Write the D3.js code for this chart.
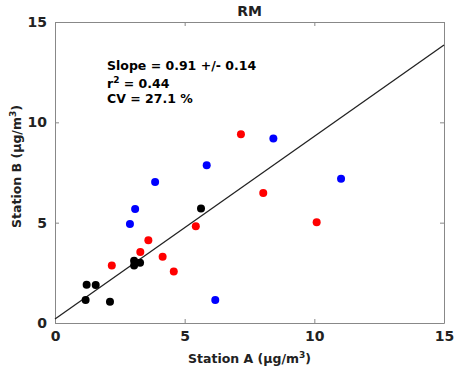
<!DOCTYPE html>
<html>
<head>
<meta charset="utf-8">
<script src="https://cdn.jsdelivr.net/npm/d3@7"></script>
<style>
  body { margin: 0; background: #fff; }
  text { font-family: "DejaVu Sans", sans-serif; font-weight: bold; }
</style>
</head>
<body>
<div id="chart-area"></div>
<script>
// Station A vs Station B, three groups of points
var blackX = [1.18, 1.22, 1.57, 2.12, 3.05, 3.05, 3.28, 5.63];
var blackY = [1.15, 1.91, 1.89, 1.06, 2.87, 3.10, 3.00, 5.71];
var redX = [2.19, 3.29, 3.60, 4.15, 4.58, 5.43, 7.17, 8.03, 10.09];
var redY = [2.87, 3.54, 4.12, 3.30, 2.57, 4.82, 9.40, 6.48, 5.02];
var blueX = [2.89, 3.09, 3.86, 5.85, 6.18, 8.42, 11.03];
var blueY = [4.93, 5.68, 7.03, 7.86, 1.15, 9.20, 7.19];

var fitSlope = 0.91, fitIntercept = 0.2;
var xTicks = [0, 5, 10, 15];
var yTicks = [0, 5, 10, 15];

var margin = { left: 55, right: 16, top: 22, bottom: 50 };
var width = 460 - margin.left - margin.right,
    height = 373 - margin.top - margin.bottom;

var svg = d3.select("#chart-area")
    .append("svg")
    .attr("width", 460)
    .attr("height", 373);
var g = svg.append("g")
    .attr("transform", "translate(" + margin.left + "," + margin.top + ")");

var x = d3.scaleLinear().domain([0, 15]).range([0, width]);
var y = d3.scaleLinear().domain([0, 15]).range([height, 0]);

// Axes (box on, ticks inward)
var axisColor = "#888";
function styleAxis(sel) {
    sel.select(".domain").attr("stroke", axisColor).attr("stroke-width", 1);
    sel.selectAll(".tick line").attr("stroke", axisColor);
    sel.selectAll(".tick text")
        .attr("fill", "#222")
        .attr("font-size", "14px")
        .attr("font-family", "DejaVu Sans")
        .attr("font-weight", "bold");
}

g.append("g")
    .attr("transform", "translate(0," + height + ")")
    .call(d3.axisBottom(x).tickValues(xTicks).tickFormat(d3.format("d"))
        .tickSizeInner(-4).tickSizeOuter(0).tickPadding(8))
    .call(styleAxis);
g.append("g")
    .call(d3.axisTop(x).tickValues(xTicks).tickFormat("")
        .tickSizeInner(-4).tickSizeOuter(0))
    .call(styleAxis);
g.append("g")
    .call(d3.axisLeft(y).tickValues(yTicks).tickFormat(d3.format("d"))
        .tickSizeInner(-4).tickSizeOuter(0).tickPadding(8))
    .call(styleAxis);
g.append("g")
    .attr("transform", "translate(" + width + ",0)")
    .call(d3.axisRight(y).tickValues(yTicks).tickFormat("")
        .tickSizeInner(-4).tickSizeOuter(0))
    .call(styleAxis);

// Fit line
g.append("line")
    .attr("x1", x(0)).attr("y1", y(fitIntercept))
    .attr("x2", x(15)).attr("y2", y(fitIntercept + fitSlope * 15))
    .attr("stroke", "#222")
    .attr("stroke-width", 1.3);

// Points
function drawPoints(xs, ys, color) {
    g.selectAll(null)
        .data(d3.zip(xs, ys))
        .enter()
        .append("circle")
        .attr("cx", function(d){ return x(d[0]); })
        .attr("cy", function(d){ return y(d[1]); })
        .attr("r", 4)
        .attr("fill", color);
}
drawPoints(blackX, blackY, "#000");
drawPoints(redX, redY, "#ff0000");
drawPoints(blueX, blueY, "#0000ff");

// Title
g.append("text")
    .attr("x", width / 2)
    .attr("y", -6)
    .attr("text-anchor", "middle")
    .attr("font-size", "14px")
    .attr("fill", "#222")
    .text("RM");

// Stats
var stats = g.append("text")
    .attr("font-size", "12.5px")
    .attr("fill", "#000");
stats.append("tspan").attr("x", 52).attr("y", 48).text("Slope = 0.91 +/- 0.14");
var r2 = stats.append("tspan").attr("x", 52).attr("y", 66);
r2.append("tspan").text("r");
r2.append("tspan").attr("dy", -5).attr("font-size", "9px").text("2");
r2.append("tspan").attr("dy", 5).text(" = 0.44");
stats.append("tspan").attr("x", 52).attr("y", 81).text("CV = 27.1 %");

// Axis labels
var xl = g.append("text")
    .attr("x", width / 2)
    .attr("y", height + 40)
    .attr("text-anchor", "middle")
    .attr("font-size", "12.5px")
    .attr("fill", "#222");
xl.append("tspan").text("Station A (\u03bcg/m");
xl.append("tspan").attr("dy", -5).attr("font-size", "9px").text("3");
xl.append("tspan").attr("dy", 5).text(")");

var yl = g.append("text")
    .attr("transform", "rotate(-90)")
    .attr("x", -height / 2 + 6)
    .attr("y", -34)
    .attr("text-anchor", "middle")
    .attr("font-size", "12.5px")
    .attr("fill", "#222");
yl.append("tspan").text("Station B (\u03bcg/m");
yl.append("tspan").attr("dy", -5).attr("font-size", "9px").text("3");
yl.append("tspan").attr("dy", 5).text(")");
</script>
</body>
</html>
